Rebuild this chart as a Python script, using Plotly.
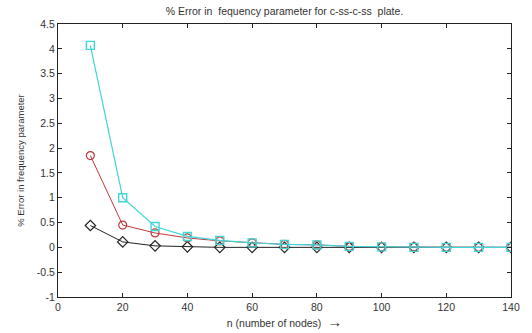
import plotly.graph_objects as go

# Number of nodes used in the discretisation
nodes = [10, 20, 30, 40, 50, 60, 70, 80, 90, 100, 110, 120, 130, 140]

# % error in frequency parameter for each mode set
err_black = [0.44, 0.11, 0.03, 0.01, 0.0, 0.0, 0.0, 0.0, 0.0, 0.0, 0.0, 0.0, 0.0, 0.0]
err_red = [1.85, 0.45, 0.29, 0.19, 0.13, 0.09, 0.06, 0.05, 0.02, 0.01, 0.01, 0.0, 0.0, 0.0]
err_cyan = [4.07, 1.0, 0.42, 0.22, 0.14, 0.09, 0.06, 0.05, 0.02, 0.01, 0.0, 0.0, 0.0, 0.0]

x_ticks = [0, 20, 40, 60, 80, 100, 120, 140]
y_ticks = [-1, -0.5, 0, 0.5, 1, 1.5, 2, 2.5, 3, 3.5, 4, 4.5]

FONT = "Liberation Sans, Arial"

fig = go.Figure()
fig.add_trace(go.Scatter(
    x=nodes, y=err_black, mode="lines+markers",
    line=dict(color="#222222", width=1),
    marker=dict(symbol="diamond-open", size=8, color="#222222", line=dict(width=1.2)),
))
fig.add_trace(go.Scatter(
    x=nodes, y=err_red, mode="lines+markers",
    line=dict(color="#c0393b", width=1),
    marker=dict(symbol="circle-open", size=8, color="#c0393b", line=dict(width=1.2)),
))
fig.add_trace(go.Scatter(
    x=nodes, y=err_cyan, mode="lines+markers",
    line=dict(color="#3fd6d8", width=1.2),
    marker=dict(symbol="square-open", size=8, color="#3fd6d8", line=dict(width=1.4)),
))

axis_common = dict(
    showgrid=False, zeroline=False, showline=True, linecolor="#222222",
    linewidth=1, mirror="ticks", ticks="inside", ticklen=4, tickcolor="#222222",
    tickfont=dict(family=FONT, size=10.5, color="#333333"),
)

fig.update_layout(
    width=532, height=333,
    margin=dict(l=58, r=17, t=24, b=34),
    paper_bgcolor="white", plot_bgcolor="white",
    showlegend=False,
    title=dict(
        text="% Error in  fequency parameter for c-ss-c-ss  plate.",
        xref="paper", x=0.5, xanchor="center", y=0.965, yanchor="middle",
        font=dict(family=FONT, size=10.5, color="#333333"),
    ),
    xaxis=dict(
        range=[0, 140], tickvals=x_ticks,
        title=dict(text="n (number of nodes)  <span style='font-size:15px'><b>\u2192</b></span>",
                   standoff=1,
                   font=dict(family=FONT, size=10.5, color="#333333")),
        **axis_common,
    ),
    yaxis=dict(
        range=[-1, 4.5], tickvals=y_ticks,
        ticktext=["-1", "-0.5", "0", "0.5", "1", "1.5", "2", "2.5", "3", "3.5", "4", "4.5"],
        title=dict(text="% Error in frequency parameter", standoff=10,
                   font=dict(family=FONT, size=9.5, color="#333333")),
        **axis_common,
    ),
)

fig.write_html("out.html")
